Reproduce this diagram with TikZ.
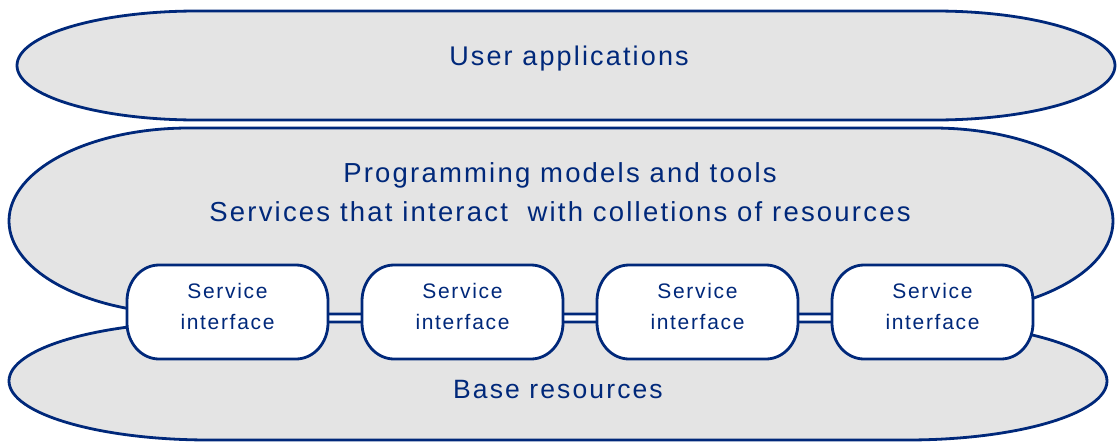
\documentclass[tikz,border=0pt]{standalone}
\usepackage{fontspec}
\setmainfont{Liberation Sans}[LetterSpace=8]
\definecolor{navy}{RGB}{0,40,122}
\definecolor{layergray}{RGB}{228,228,228}
% rounded slab with elliptical ends: #1=left x, #2=top y, #3=right x, #4=bottom y, #5=end x radius, #6=style
\newcommand{\slab}[6]{%
  \pgfmathsetmacro{\slabry}{(#4-#2)/2}%
  \path[#6] (#1+#5,#2) -- (#3-#5,#2)
    arc[start angle=90, end angle=-90, x radius=#5pt, y radius=\slabry pt]
    -- (#1+#5,#4)
    arc[start angle=270, end angle=90, x radius=#5pt, y radius=\slabry pt] -- cycle;}
% service box: rectangle with elliptical corners
\newcommand{\svcbox}[4]{%
  \path[#4] (#1+32,#2) -- (#3-32,#2)
    arc[start angle=90, end angle=0, x radius=32pt, y radius=36pt]
    -- (#3,359-36)
    arc[start angle=0, end angle=-90, x radius=32pt, y radius=36pt]
    -- (#1+32,359)
    arc[start angle=270, end angle=180, x radius=32pt, y radius=36pt]
    -- (#1,#2+36)
    arc[start angle=180, end angle=90, x radius=32pt, y radius=36pt] -- cycle;}
\begin{document}
\begin{tikzpicture}[x=1pt, y=-1pt,
  layer/.style={draw=navy, fill=layergray, line width=2.8pt},
  svc/.style={draw=navy, fill=white, line width=2.8pt},
  bigtext/.style={text=navy, font=\fontsize{26.5}{39}\selectfont, align=center, inner sep=0pt},
  svctext/.style={text=navy, font=\fontsize{21}{31}\selectfont, align=center, inner sep=0pt}]
\useasboundingbox (0,0) rectangle (1117,442);

% the three layers
\slab{17}{11}{1115}{120}{180}{layer}
\slab{9}{128}{1113}{314}{180}{layer}
\slab{9}{322}{1107}{440}{200}{layer}

% service interfaces
\svcbox{127}{265}{328}{svc}
\svcbox{362}{265}{563}{svc}
\svcbox{597}{265}{798}{svc}
\svcbox{832}{265}{1033}{svc}

\node[bigtext, font=\fontsize{27}{39}\selectfont] (user) at (569,58.5) {User applications};
\node[bigtext, font=\fontsize{27.5}{39}\selectfont] (prog) at (560,192) {Programming models and tools\\Services that interact\ \ with colletions of resources};
\node[bigtext] (base) at (558,389.5) {Base resources};

\node[svctext] (s1) at (227.5,306) {Service\\interface};
\node[svctext] (s2) at (462.5,306) {Service\\interface};
\node[svctext] (s3) at (697.5,306) {Service\\interface};
\node[svctext] (s4) at (932.5,306) {Service\\interface};
\end{tikzpicture}
\end{document}
